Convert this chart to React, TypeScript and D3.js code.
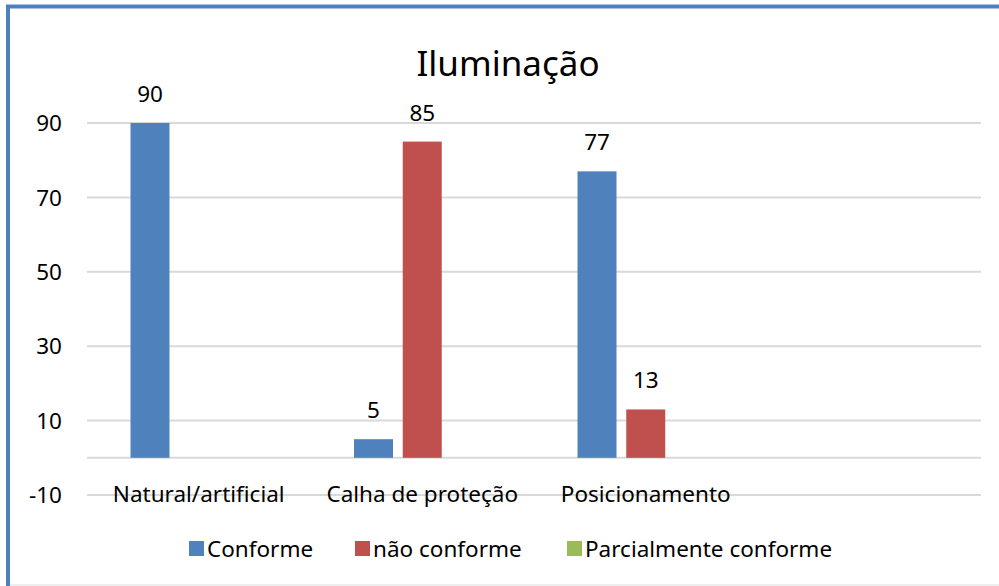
import React, { useRef, useEffect } from "react";
import * as d3 from "d3";

const categories = ["Natural/artificial", "Calha de proteção", "Posicionamento", ""];
const seriesNames = ["Conforme", "não conforme", "Parcialmente conforme"];
const conforme = [90, 5, 77, null];
const naoConforme = [null, 85, 13, null];
const parcial = [null, null, null, null];
const yTicks = [-10, 10, 30, 50, 70, 90];
const colors = ["#4f81bd", "#c0504d", "#9bbb59"];

const W = 999;
const H = 586;
const FONT = "'Noto Sans', 'Open Sans', sans-serif";
const FS = 22.5;

const App = () => {
  const ref = useRef<SVGSVGElement>(null);

  useEffect(() => {
    const svg = d3.select(ref.current);
    svg.selectAll("*").remove();

    const series = [conforme, naoConforme, parcial];

    // outer frame
    svg.append("rect").attr("x", 0).attr("y", 0).attr("width", W).attr("height", H).attr("fill", "#fff");
    svg.append("line").attr("x1", 6).attr("x2", W).attr("y1", 6.5).attr("y2", 6.5)
      .attr("stroke", "#4f81bd").attr("stroke-width", 4);
    svg.append("line").attr("x1", 8).attr("x2", 8).attr("y1", 5).attr("y2", H)
      .attr("stroke", "#4f81bd").attr("stroke-width", 4);
    svg.append("line").attr("x1", 10).attr("x2", W).attr("y1", 585).attr("y2", 585)
      .attr("stroke", "#e8e8e8").attr("stroke-width", 1.5);

    const x0 = d3.scaleBand<string>().domain(categories.map((_, i) => String(i))).range([87, 981]).padding(0);
    const bw = x0.bandwidth();
    const x1 = d3.scaleBand<string>().domain(seriesNames).range([43.5, bw - 43.5]).paddingInner(0.2).paddingOuter(0);
    const y = d3.scaleLinear().domain([-10, 90]).range([495, 123]);

    // gridlines
    const grid = [...yTicks, 0];
    svg.append("g").selectAll("line").data(grid).enter().append("line")
      .attr("x1", 87).attr("x2", 981)
      .attr("y1", (d) => y(d)).attr("y2", (d) => y(d))
      .attr("stroke", "#d9d9d9").attr("stroke-width", 2);

    // y tick labels
    svg.append("g").selectAll("text").data(yTicks).enter().append("text")
      .attr("x", 62).attr("y", (d) => y(d)).attr("dy", "0.36em")
      .attr("text-anchor", "end").attr("font-family", FONT).attr("font-size", FS).attr("fill", "#000")
      .text((d) => d);

    // bars + labels
    series.forEach((vals, si) => {
      const g = svg.append("g");
      const pts = vals.map((v, i) => ({ v, i })).filter((d) => d.v !== null) as { v: number; i: number }[];
      g.selectAll("rect").data(pts).enter().append("rect")
        .attr("x", (d) => (x0(String(d.i)) as number) + (x1(seriesNames[si]) as number))
        .attr("y", (d) => y(d.v))
        .attr("width", x1.bandwidth())
        .attr("height", (d) => y(0) - y(d.v))
        .attr("fill", colors[si]);
      g.selectAll("text").data(pts).enter().append("text")
        .attr("x", (d) => (x0(String(d.i)) as number) + (x1(seriesNames[si]) as number) + x1.bandwidth() / 2)
        .attr("y", (d) => y(d.v) - 21)
        .attr("text-anchor", "middle").attr("font-family", FONT).attr("font-size", FS).attr("fill", "#000")
        .text((d) => d.v);
    });

    // category labels
    svg.append("g").selectAll("text").data(categories).enter().append("text")
      .attr("x", (_, i) => (x0(String(i)) as number) + bw / 2)
      .attr("y", 502)
      .attr("text-anchor", "middle").attr("font-family", FONT).attr("font-size", FS).attr("fill", "#000")
      .text((d) => d);

    // title
    svg.append("text").attr("x", 508).attr("y", 76).attr("text-anchor", "middle")
      .attr("font-family", FONT).attr("font-size", 35).attr("fill", "#000").text("Iluminação");

    // legend
    const legendX = [189, 355, 567];
    const lg = svg.append("g");
    seriesNames.forEach((name, i) => {
      lg.append("rect").attr("x", legendX[i]).attr("y", 541).attr("width", 15).attr("height", 15).attr("fill", colors[i]);
      lg.append("text").attr("x", legendX[i] + 18).attr("y", 557)
        .attr("font-family", FONT).attr("font-size", FS).attr("fill", "#000").text(name);
    });
  }, []);

  return (
    <svg ref={ref} width={W} height={H} style={{ position: "absolute", left: 0, top: 0, display: "block" }}></svg>
  );
};

export default App;
